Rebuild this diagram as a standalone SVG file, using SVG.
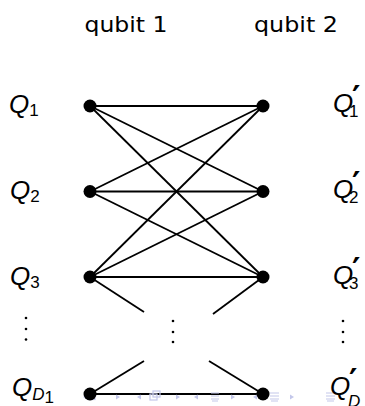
<svg xmlns="http://www.w3.org/2000/svg" width="365" height="406" viewBox="0 0 365 406">
<style>
.hdr{font-family:"DejaVu Sans","Liberation Sans",sans-serif;font-size:21px;fill:#000}
.q{font-family:"Liberation Sans","DejaVu Sans",sans-serif;font-style:italic;font-size:26px;fill:#000}
.s{font-family:"Liberation Sans","DejaVu Sans",sans-serif;font-style:normal;font-size:17px}
.si{font-family:"Liberation Sans","DejaVu Sans",sans-serif;font-style:italic;font-size:17px}
.p{font-family:"DejaVu Sans",sans-serif;font-style:normal;font-weight:bold;font-size:32px}
.e{stroke:#000;stroke-width:1.8;fill:none}
.n{fill:#000}
.d{fill:#000}
.nav{fill:#c3c7ea;stroke:none}
.navl{stroke:#c3c7ea;stroke-width:1.2;fill:none}
</style>
<rect width="365" height="406" fill="#fff"/>
<text class="hdr" x="126" y="32" text-anchor="middle" textLength="83" lengthAdjust="spacingAndGlyphs">qubit 1</text>
<text class="hdr" x="296" y="32" text-anchor="middle" textLength="84" lengthAdjust="spacingAndGlyphs">qubit 2</text>
<g id="edges">
<line class="e" x1="90" y1="106" x2="263" y2="106"/>
<line class="e" x1="90" y1="106" x2="263" y2="191.5"/>
<line class="e" x1="90" y1="106" x2="263" y2="277"/>
<line class="e" x1="90" y1="191.5" x2="263" y2="106"/>
<line class="e" x1="90" y1="191.5" x2="263" y2="191.5"/>
<line class="e" x1="90" y1="191.5" x2="263" y2="277"/>
<line class="e" x1="90" y1="277" x2="263" y2="106"/>
<line class="e" x1="90" y1="277" x2="263" y2="191.5"/>
<line class="e" x1="90" y1="277" x2="263" y2="277"/>
<line class="e" x1="90" y1="277" x2="144" y2="312"/>
<line class="e" x1="263" y1="277" x2="213" y2="314"/>
<line class="e" x1="90" y1="394" x2="144" y2="361"/>
<line class="e" x1="263" y1="394" x2="209" y2="361"/>
<line class="e" x1="90" y1="394" x2="263" y2="394"/>
</g>
<g id="navigation">
<path class="nav" d="M83 397 L88 394 L88 400 Z"/>
<rect class="navl" x="89" y="393.5" width="6" height="6"/>
<path class="nav" d="M116 394.5 L120 397 L116 399.5 Z"/>
<path class="nav" d="M141 394.5 L137 397 L141 399.5 Z"/>
<rect class="navl" x="150" y="394" width="7" height="6"/>
<rect class="navl" x="153" y="391" width="7" height="6"/>
<path class="nav" d="M176 394.5 L180 397 L176 399.5 Z"/>
<path class="nav" d="M198 394.5 L194 397 L198 399.5 Z"/>
<path class="navl" d="M211 393 H219 M211 396 H219 M211 399 H219 M212 401 H218"/>
<path class="nav" d="M231 394.5 L235 397 L231 399.5 Z"/>
<path class="nav" d="M257 394.5 L253 397 L257 399.5 Z"/>
<path class="navl" d="M270 393 H279 M270 396 H279 M270 399 H279 M271 401 H278"/>
<path class="nav" d="M290 394.5 L294 397 L290 399.5 Z"/>
<path class="navl" d="M326 393 H335 M326 396 H335 M326 399 H335 M327 401 H334"/>
</g>
<g id="Q1"><circle class="n" cx="90" cy="106" r="6.5"/><text class="q" x="9" y="113">Q<tspan class="s" dx="0" dy="3">1</tspan></text></g>
<g id="Q2"><circle class="n" cx="90" cy="191.5" r="6.5"/><text class="q" x="10" y="199">Q<tspan class="s" dx="0" dy="3">2</tspan></text></g>
<g id="Q3"><circle class="n" cx="90" cy="277" r="6.5"/><text class="q" x="10" y="285">Q<tspan class="s" dx="0" dy="3">3</tspan></text></g>
<g id="QD1"><circle class="n" cx="90" cy="394" r="6.5"/><text class="q" x="12" y="396">Q<tspan class="si" dx="0" dy="4">D</tspan><tspan class="s" font-size="13" dy="3">1</tspan></text></g>
<g id="Q1p"><circle class="n" cx="263" cy="106" r="6.5"/><text class="q" x="333" y="112">Q<tspan class="p" x="352" y="108">′</tspan><tspan class="s" x="349" y="117">1</tspan></text></g>
<g id="Q2p"><circle class="n" cx="263" cy="191.5" r="6.5"/><text class="q" x="333" y="198">Q<tspan class="p" x="352" y="194">′</tspan><tspan class="s" x="349" y="203">2</tspan></text></g>
<g id="Q3p"><circle class="n" cx="263" cy="277" r="6.5"/><text class="q" x="333" y="284">Q<tspan class="p" x="352" y="280">′</tspan><tspan class="s" x="349" y="289">3</tspan></text></g>
<g id="QDp"><circle class="n" cx="263" cy="394" r="6.5"/><text class="q" x="330" y="395">Q<tspan class="p" x="349" y="391">′</tspan><tspan class="si" x="348" y="407">D</tspan></text></g>
<g id="dots">
<circle class="d" cx="26" cy="318" r="1.3"/><circle class="d" cx="26" cy="329" r="1.3"/><circle class="d" cx="26" cy="339.5" r="1.3"/>
<circle class="d" cx="173" cy="321" r="1.3"/><circle class="d" cx="173" cy="332" r="1.3"/><circle class="d" cx="173" cy="342" r="1.3"/>
<circle class="d" cx="343" cy="321" r="1.3"/><circle class="d" cx="343" cy="332" r="1.3"/><circle class="d" cx="343" cy="342" r="1.3"/>
</g>
</svg>
